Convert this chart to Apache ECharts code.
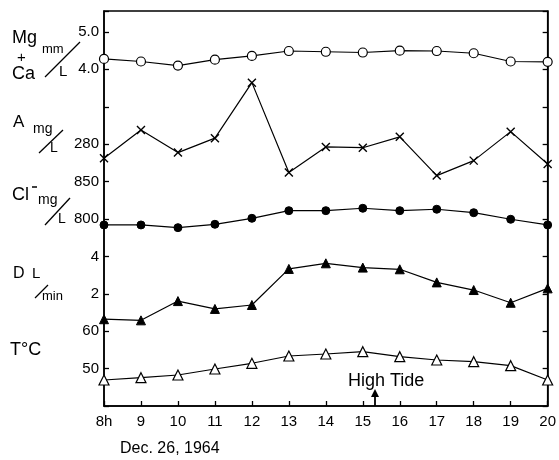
<!DOCTYPE html>
<html><head><meta charset="utf-8">
<script src="https://cdn.jsdelivr.net/npm/echarts@6/dist/echarts.min.js"></script>
<style>html,body{margin:0;padding:0;background:#fff}#c{width:559px;height:460px}</style>
</head><body><div id="c"></div>
<script>
const hours = [8,9,10,11,12,13,14,15,16,17,18,19,20];
const hourLabels = {8:'8h'};
const mgca  = [4.28,4.21,4.10,4.26,4.36,4.49,4.47,4.45,4.50,4.49,4.43,4.21,4.20];
const aVals = [272.5,287.6,275.5,283.2,312.9,264.8,278.5,278.1,283.9,263.2,271.2,286.7,269.4];
const clVals= [792,792,788.4,792.9,800.9,811.1,811.1,814.3,811.1,813.0,808.4,799.6,792.0];
const dFlow = [0.64,0.58,1.61,1.19,1.40,3.33,3.63,3.40,3.31,2.61,2.20,1.52,2.29];
const temp  = [46.95,47.57,48.29,49.89,51.42,53.37,53.90,54.52,53.18,52.30,51.84,50.78,46.95];
const mgTicks=[4,5], aTicks=[280], clTicks=[800,850], dTicks=[2,4], tTicks=[50,60];

const FONT = 'Liberation Sans, DejaVu Sans, sans-serif';
const chart = echarts.init(document.getElementById('c'));

function yAx(min,max,interval,ticks,fmt,main){
  return {type:'value', position:'left', offset:0, min, max, interval,
    splitLine:{show:false},
    axisLine:{show:!!main, onZero:false, lineStyle:{color:'#000', width:1.5}},
    axisTick:{show:!!main, inside:true, length:5, lineStyle:{color:'#000', width:1.3}},
    axisLabel:{margin:5, color:'#000', fontSize:15, fontFamily:FONT,
      formatter:v=>{ for(const t of ticks){ if(Math.abs(v-t)<1e-6) return fmt(t);} return ''; }}
  };
}
const pairs = arr => hours.map((h,i)=>[h,arr[i]]);
const lineBase = {type:'line', lineStyle:{color:'#000', width:1.2}, symbolSize:9, z:3};
const crossSym = 'path://M0,0L10,10M10,0L0,10';

function t(text,x,y,size){return {type:'text', x, y, style:{text, fontSize:size, fontFamily:FONT, fill:'#000', verticalAlign:'middle', align:'left'}};}
function ln(x1,y1,x2,y2,w){return {type:'line', shape:{x1,y1,x2,y2}, style:{stroke:'#000', lineWidth:w||1.3}};}

chart.setOption({
  animation:false,
  grid:{left:104, right:9, top:11, bottom:54, show:true, borderColor:'#000', borderWidth:1.5},
  xAxis:{type:'value', min:8, max:20, interval:1,
    splitLine:{show:false},
    axisLine:{onZero:false, lineStyle:{color:'#000', width:1.5}},
    axisTick:{inside:true, length:5, lineStyle:{color:'#000', width:1.3}},
    axisLabel:{margin:8, color:'#000', fontSize:15, fontFamily:FONT,
      formatter:v=> hourLabels[v] || String(v)}},
  yAxis:[
    yAx(-5,5.56,1,mgTicks,v=>v.toFixed(1),true),
    yAx(140,351.2,20,aTicks,v=>String(v)),
    yAx(550,1078,50,clTicks,v=>String(v)),
    yAx(-4,17.12,2,dTicks,v=>String(v)),
    yAx(40,145.6,10,tTicks,v=>String(v)),
    {type:'value', position:'right', min:-5, max:5.56, interval:1, splitLine:{show:false},
     axisLine:{show:true, onZero:false, lineStyle:{color:'#000', width:1.5}},
     axisTick:{show:true, inside:true, length:5, lineStyle:{color:'#000', width:1.3}},
     axisLabel:{show:false}}
  ],
  series:[
    Object.assign({}, lineBase, {name:'Mg+Ca', yAxisIndex:0, data:pairs(mgca), symbol:'circle',
      itemStyle:{color:'#fff', borderColor:'#000', borderWidth:1.2}}),
    Object.assign({}, lineBase, {name:'A', yAxisIndex:1, data:pairs(aVals), symbol:crossSym, symbolSize:8,
      itemStyle:{color:'none', borderColor:'#000', borderWidth:1.4}}),
    Object.assign({}, lineBase, {name:'Cl', yAxisIndex:2, data:pairs(clVals), symbol:'circle', symbolSize:8,
      itemStyle:{color:'#000', borderColor:'#000', borderWidth:1}}),
    Object.assign({}, lineBase, {name:'D', yAxisIndex:3, data:pairs(dFlow), symbol:'triangle', symbolSize:9,
      itemStyle:{color:'#000', borderColor:'#000', borderWidth:1}}),
    Object.assign({}, lineBase, {name:'T', yAxisIndex:4, data:pairs(temp), symbol:'triangle', symbolSize:10,
      itemStyle:{color:'#fff', borderColor:'#000', borderWidth:1.2}})
  ],
  graphic:[
    t('Mg',12,38,18), t('+',17,58,15), t('Ca',12,74,18), t('mm',42,49,13),
    ln(45,77,80,42), t('L',59,72,15),
    t('A',13,122,17), t('mg',33,129,14), ln(39,153,63,130), t('L',50,148,14),
    t('Cl',12,195,18), ln(32,187,37,187,1.5), t('mg',38,200,14), ln(45,225,70,198), t('L',58,219,14),
    t('D',13,274,16), t('L',32,274,15), ln(35,298,48,285), t('min',42,296,13),
    t('T°C',10,350,18),
    t('High Tide',348,381,18),
    ln(375,406,375,393,1.8),
    {type:'polygon', shape:{points:[[371,397],[375,389],[379,397]]}, style:{fill:'#000'}},
    t('Dec. 26, 1964',120,449,16)
  ]
});
</script></body></html>
